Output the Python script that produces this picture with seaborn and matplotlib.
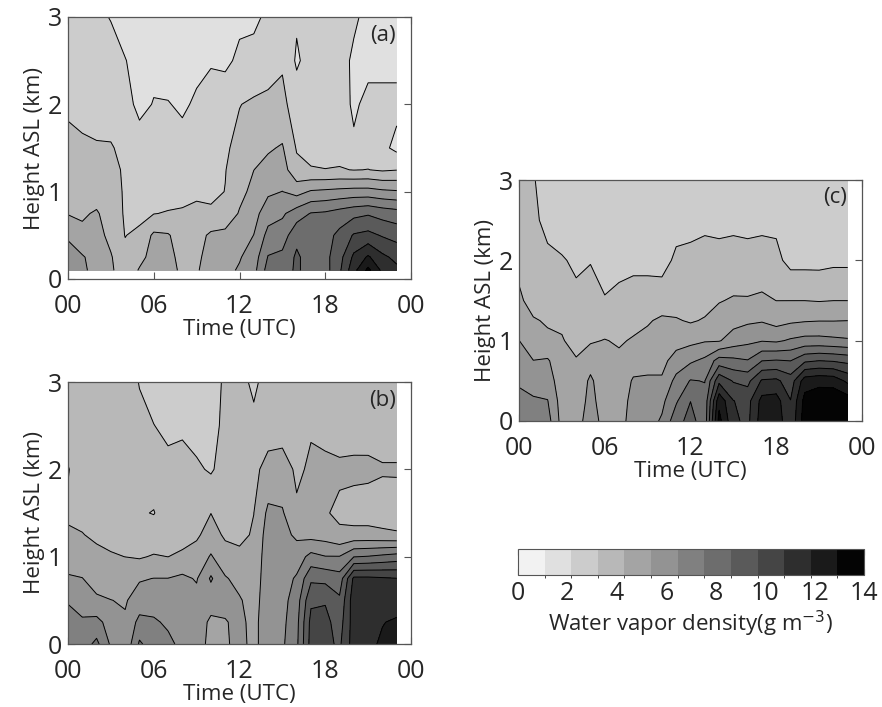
import numpy as np
import seaborn as sns
import matplotlib
matplotlib.use("Agg")
import matplotlib.pyplot as plt
from matplotlib.colors import ListedColormap, BoundaryNorm

sns.set_style("ticks")
plt.rcParams['font.family'] = ['Open Sans', 'DejaVu Sans']

# hours (UTC) of the retrieved profiles
hours = list(range(24))

# heights (km ASL) of the profile levels
heights_a = [0.1, 0.25, 0.5, 0.75, 1.0, 1.25, 1.5, 2.0, 2.5, 3.0]
heights_bc = [0.0, 0.25, 0.5, 0.75, 1.0, 1.25, 1.5, 2.0, 2.5, 3.0]

# water vapor density (g m-3), one profile per hour, bottom -> top
wv_a = [
    [6.0, 5.8, 5.25, 4.25, 4.0, 3.8, 3.6, 3.0, 2.7, 2.5],
    [5.6, 5.5, 4.5, 4.2, 3.9, 3.7, 3.4, 2.9, 2.7, 2.5],
    [5.0, 4.9, 4.7, 4.4, 3.9, 3.6, 3.3, 2.9, 2.6, 2.4],
    [4.5, 4.4, 4.0, 3.9, 3.7, 3.5, 3.3, 2.8, 2.6, 2.1],
    [3.6, 3.5, 3.2, 3.1, 3.1, 3.1, 3.0, 2.5, 2.2, 1.6],
    [4.4, 4.0, 3.5, 2.9, 2.7, 3.0, 2.6, 1.9, 1.7, 1.4],
    [4.8, 4.7, 4.5, 3.2, 2.6, 2.4, 2.5, 2.2, 1.9, 1.5],
    [4.7, 4.6, 4.4, 3.3, 2.8, 2.6, 2.5, 2.2, 1.7, 1.4],
    [4.1, 4.0, 3.8, 3.35, 2.9, 2.7, 2.5, 2.0, 1.7, 1.4],
    [4.2, 4.1, 3.9, 3.4, 3.1, 2.8, 2.6, 2.3, 1.9, 1.4],
    [4.8, 4.7, 4.5, 3.4, 3.0, 2.8, 2.6, 2.4, 2.1, 1.5],
    [5.1, 5.0, 4.6, 3.6, 3.25, 3.2, 3.1, 2.6, 2.0, 1.6],
    [5.5, 5.3, 4.9, 4.4, 4.0, 3.7, 3.5, 3.2, 2.3, 2.0],
    [6.1, 5.9, 5.4, 5.0, 4.6, 4.3, 3.9, 3.4, 2.4, 2.0],
    [8.0, 7.6, 6.8, 6.0, 5.2, 4.6, 4.2, 3.5, 2.7, 2.3],
    [8.1, 7.8, 7.0, 6.3, 5.4, 4.8, 4.4, 3.5, 3.1, 2.4],
    [8.8, 8.8, 8.3, 7.0, 5.0, 3.5, 3.15, 2.7, 2.0, 2.3],
    [8.1, 8.1, 8.0, 7.6, 5.5, 3.3, 2.9, 2.7, 2.6, 2.5],
    [8.2, 8.3, 8.2, 7.7, 5.6, 3.25, 2.9, 2.7, 2.6, 2.5],
    [9.5, 9.3, 8.9, 8.0, 5.7, 3.3, 2.85, 2.6, 2.5, 2.4],
    [11.5, 11.0, 9.8, 8.3, 5.8, 3.2, 2.3, 2.0, 2.0, 2.3],
    [13.2, 12.0, 10.0, 8.5, 5.8, 3.25, 2.7, 2.4, 1.9, 1.9],
    [11.6, 11.0, 9.6, 8.2, 5.6, 3.1, 2.4, 2.4, 1.9, 1.8],
    [11.0, 10.5, 9.3, 8.0, 5.5, 3.2, 1.9, 2.4, 1.9, 1.7],
]

wv_b = [
    [7.4, 7.2, 6.3, 5.5, 4.9, 4.4, 4.2, 4.35, 3.9, 3.7],
    [7.0, 6.6, 6.0, 5.4, 5.0, 4.35, 4.0, 3.9, 3.8, 3.7],
    [7.8, 6.8, 5.5, 5.1, 4.6, 4.1, 3.9, 3.8, 3.75, 3.7],
    [6.3, 6.0, 5.4, 4.9, 4.4, 4.0, 3.8, 3.7, 3.6, 3.7],
    [5.6, 5.5, 5.3, 5.0, 4.3, 3.7, 3.5, 3.6, 3.6, 3.6],
    [7.7, 6.8, 5.8, 5.3, 4.2, 3.5, 3.3, 3.5, 3.4, 3.2],
    [7.0, 6.6, 6.0, 5.4, 4.4, 3.6, 3.2, 3.6, 3.25, 2.8],
    [6.7, 6.3, 6.1, 5.4, 4.3, 3.8, 3.6, 3.5, 3.0, 2.6],
    [6.2, 6.1, 5.9, 5.6, 4.5, 3.9, 3.6, 3.5, 3.1, 2.6],
    [6.0, 5.9, 5.7, 5.3, 4.6, 4.2, 3.7, 3.4, 2.8, 2.6],
    [5.0, 5.2, 5.8, 6.6, 5.5, 4.6, 4.3, 3.1, 2.7, 2.5],
    [5.2, 5.3, 5.8, 5.5, 4.6, 4.2, 3.8, 3.7, 3.6, 3.5],
    [5.8, 5.7, 5.5, 5.0, 4.5, 4.1, 3.9, 3.8, 3.7, 3.6],
    [5.0, 5.0, 4.9, 4.8, 4.6, 4.4, 4.3, 4.1, 3.5, 3.0],
    [6.2, 6.2, 6.1, 6.0, 6.0, 5.9, 5.6, 4.6, 3.9, 3.7],
    [6.3, 6.2, 6.1, 6.0, 5.9, 5.7, 5.5, 4.6, 4.0, 3.8],
    [7.3, 7.2, 7.0, 6.6, 5.9, 5.2, 4.4, 4.2, 4.0, 3.8],
    [10.1, 10.0, 9.5, 8.4, 6.8, 5.0, 4.6, 4.4, 4.25, 3.6],
    [10.0, 10.0, 9.6, 8.3, 6.5, 4.9, 4.4, 4.6, 3.9, 3.5],
    [9.5, 9.2, 8.8, 8.0, 6.5, 4.5, 4.1, 4.5, 3.8, 3.5],
    [11.3, 11.3, 11.4, 11.0, 7.5, 4.6, 3.9, 4.55, 3.8, 3.5],
    [11.6, 11.6, 11.5, 11.0, 7.6, 4.6, 3.9, 4.5, 3.9, 3.6],
    [12.0, 11.8, 11.4, 10.9, 7.8, 4.5, 3.85, 4.4, 3.8, 3.6],
    [12.2, 12.0, 11.3, 10.8, 8.0, 4.4, 3.9, 4.4, 3.8, 3.6],
]

wv_c = [
    [7.2, 7.0, 6.2, 5.8, 5.4, 4.9, 4.5, 4.0, 3.8, 3.6],
    [7.0, 6.6, 6.0, 5.4, 4.8, 4.4, 3.9, 3.6, 3.4, 3.3],
    [6.9, 6.5, 5.9, 5.5, 4.5, 4.2, 3.8, 3.4, 3.0, 2.8],
    [5.0, 4.9, 4.8, 4.7, 4.4, 4.1, 3.7, 3.3, 2.8, 2.6],
    [4.7, 4.6, 4.5, 4.4, 3.9, 3.6, 3.4, 3.1, 2.7, 2.5],
    [6.2, 5.8, 5.6, 4.9, 4.2, 3.9, 3.5, 3.2, 2.7, 2.5],
    [4.8, 4.7, 4.6, 4.4, 4.35, 3.8, 3.3, 2.8, 2.5, 2.4],
    [5.0, 4.9, 4.7, 4.5, 4.2, 3.9, 3.5, 2.9, 2.5, 2.4],
    [5.8, 5.7, 5.5, 4.9, 4.4, 4.0, 3.6, 3.0, 2.5, 2.4],
    [6.0, 5.8, 5.5, 5.1, 4.6, 4.2, 3.6, 3.0, 2.5, 2.4],
    [6.6, 6.2, 5.5, 5.1, 4.8, 4.5, 3.7, 2.9, 2.6, 2.5],
    [8.2, 7.4, 6.8, 5.8, 5.0, 4.4, 3.8, 3.4, 2.9, 2.6],
    [9.0, 8.6, 7.6, 6.3, 5.1, 4.2, 3.9, 3.5, 2.9, 2.6],
    [8.0, 7.9, 7.5, 6.7, 5.3, 4.4, 3.9, 3.6, 3.0, 2.6],
    [13.3, 12.6, 10.5, 8.0, 5.3, 4.7, 4.25, 3.5, 3.0, 2.6],
    [11.0, 10.8, 9.6, 7.8, 5.9, 5.0, 4.4, 3.6, 3.0, 2.7],
    [10.5, 10.4, 9.4, 7.6, 6.2, 5.2, 4.4, 3.5, 3.0, 2.7],
    [12.4, 12.2, 10.9, 8.6, 6.4, 5.3, 4.5, 3.6, 3.0, 2.7],
    [12.5, 12.3, 11.0, 8.7, 6.3, 5.0, 4.3, 3.5, 3.0, 2.7],
    [11.0, 10.8, 10.2, 8.6, 6.6, 5.2, 4.3, 2.9, 2.8, 2.6],
    [13.5, 13.3, 12.4, 9.5, 6.8, 5.3, 4.3, 2.9, 2.6, 2.5],
    [13.8, 13.6, 12.6, 9.7, 6.8, 5.35, 4.25, 2.9, 2.6, 2.5],
    [13.9, 13.7, 12.5, 9.6, 6.7, 5.35, 4.3, 3.0, 2.6, 2.5],
    [13.7, 13.5, 11.6, 9.4, 6.6, 5.38, 4.3, 3.0, 2.6, 2.5],
]

# 13 gray shades of the colour bar, light -> dark
bar_grays = [242, 224, 204, 184, 164, 147, 128, 109, 90, 69, 46, 26, 4]
levels = np.linspace(0, 14, 14)
cmap = ListedColormap([(g / 255, g / 255, g / 255) for g in bar_grays])
norm = BoundaryNorm(levels, cmap.N)

W, H = 882, 707
fig = plt.figure(figsize=(W / 100, H / 100), dpi=100)


def px_axes(left, top, right, bottom):
    return fig.add_axes([left / W, 1 - bottom / H, (right - left) / W, (bottom - top) / H])


FS = 15


def draw_panel(ax, hgt, wv, tag):
    z = np.array(wv).T
    cf = ax.contourf(hours, hgt, z, levels=levels, cmap=cmap, norm=norm)
    ax.contour(hours, hgt, z, levels=levels, colors='k', linewidths=0.7)
    ax.set_xlim(0, 24)
    ax.set_ylim(0, 3)
    ax.set_xticks([0, 6, 12, 18, 24])
    ax.set_xticklabels(['00', '06', '12', '18', '00'])
    ax.set_yticks([0, 1, 2, 3])
    ax.tick_params(direction='in', top=True, right=True, length=5, width=0.8,
                   labelsize=FS + 3, color='#555555')
    ax.tick_params(axis='x', pad=11)
    ax.tick_params(axis='y', pad=4)
    for s in ax.spines.values():
        s.set_color('#555555')
        s.set_linewidth(0.9)
    ax.set_xlabel('Time (UTC)', fontsize=FS + 1, labelpad=0)
    ax.set_ylabel('Height ASL (km)', fontsize=FS + 1, labelpad=2)
    ax.text(0.955, 0.97, tag, transform=ax.transAxes, ha='right', va='top', fontsize=FS + 1)
    return cf


ax_a = px_axes(68, 17, 411, 279)
cf = draw_panel(ax_a, heights_a, wv_a, '(a)')
ax_b = px_axes(68, 382, 411, 644)
draw_panel(ax_b, heights_bc, wv_b, '(b)')
ax_c = px_axes(519, 180, 862, 421)
draw_panel(ax_c, heights_bc, wv_c, '(c)')

cax = px_axes(518, 549, 864, 575)
cb = fig.colorbar(cf, cax=cax, orientation='horizontal', ticks=[0, 2, 4, 6, 8, 10, 12, 14])
cb.ax.tick_params(direction='in', top=True, bottom=True, length=4, labelsize=FS + 3,
                  pad=4, color='#333333')
cb.outline.set_edgecolor('#555555')
cb.set_label(r'Water vapor density(g m$^{-3}$)', fontsize=FS + 1, labelpad=2)

fig.savefig('out.png', dpi=100)
